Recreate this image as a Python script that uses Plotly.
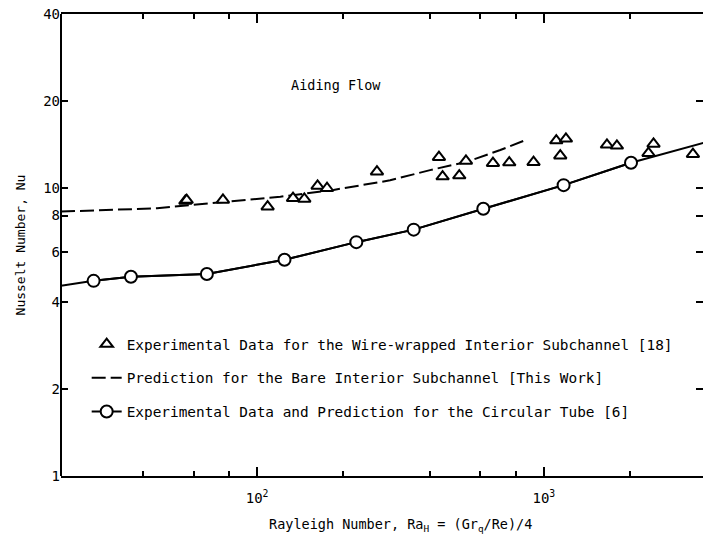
import plotly.graph_objects as go
import math

# Wire-wrapped interior subchannel experimental data [18]
tri_x = [56.2, 56.8, 76.0, 108.8, 133.4, 146.1, 162.5, 175.3, 261.8, 430.7, 443.5, 507, 535,
         664.5, 757.5, 920.6, 1105, 1194, 1141, 1660, 1798, 2413, 2317, 3311]
tri_y = [8.99, 9.05, 9.06, 8.59, 9.19, 9.14, 10.14, 9.95, 11.36, 12.75, 10.92, 11.01, 12.38,
         12.15, 12.21, 12.25, 14.56, 14.76, 12.91, 14.07, 13.96, 14.18, 13.17, 13.06]

# Prediction for the bare interior subchannel (dashed)
bare_x = [20.7, 44.8, 120.5, 184.8, 291, 401, 540, 705, 875]
bare_y = [8.26, 8.48, 9.30, 9.82, 10.6, 11.5, 12.3, 13.5, 14.7]

# Circular tube: experimental data and prediction
circ_x = [26.9, 36.3, 66.8, 124.6, 221.8, 351.6, 615, 1172, 2014]
circ_y = [4.75, 4.91, 5.02, 5.62, 6.47, 7.15, 8.45, 10.2, 12.2]
curve_x = [20.7] + circ_x + [3700]
curve_y = [4.57] + circ_y + [14.4]

x_range = [20.7, 3590]
y_range = [1, 40]
y_ticks = [1, 2, 4, 6, 8, 10, 20, 40]
x_ticks = [100, 1000]
x_ticktext = ["10<sup>2</sup>", "10<sup>3</sup>"]
x_minor = [40, 60, 80, 200, 400, 600, 800, 2000]

names = [
    "Experimental Data for the Wire-wrapped Interior Subchannel [18]",
    "Prediction for the Bare Interior Subchannel [This Work]",
    "Experimental Data and Prediction for the Circular Tube [6]",
]

FONT = "DejaVu Sans Mono"
fig = go.Figure()

fig.add_trace(go.Scatter(x=curve_x, y=curve_y, mode="lines",
                         line=dict(color="black", width=2), showlegend=False,
                         hoverinfo="skip"))
fig.add_trace(go.Scatter(x=bare_x, y=bare_y, mode="lines", name=names[1],
                         line=dict(color="black", width=2, dash="14px,5px"),
                         legendrank=2, legendgroup="b"))
fig.add_trace(go.Scatter(x=circ_x, y=circ_y, mode="lines+markers", name=names[2],
                         line=dict(color="black", width=2),
                         marker=dict(symbol="circle", size=12, color="white",
                                     line=dict(color="black", width=2)),
                         legendrank=3, legendgroup="c"))
fig.add_trace(go.Scatter(x=tri_x, y=tri_y, mode="markers", name=names[0],
                         marker=dict(symbol="triangle-up", size=11, color="white",
                                     line=dict(color="black", width=2)),
                         legendrank=1, legendgroup="a"))

fig.update_layout(
    width=703, height=538,
    margin=dict(l=61, r=0, t=14, b=62),
    paper_bgcolor="white", plot_bgcolor="white",
    font=dict(family=FONT, size=14, color="black"),
    showlegend=True,
    legend=dict(x=0.04, y=0.32, xanchor="left", yanchor="top",
                bgcolor="rgba(0,0,0,0)", traceorder="grouped", tracegroupgap=12,
                font=dict(family=FONT, size=14.4, color="black")),
    xaxis=dict(type="log", range=[math.log10(v) for v in x_range],
               showline=True, linecolor="black", linewidth=2, mirror="ticks",
               ticks="inside", ticklen=9, tickwidth=2, tickcolor="black",
               tickvals=x_ticks, ticktext=x_ticktext, ticklabelstandoff=8,
               showgrid=False, zeroline=False,
               minor=dict(tickvals=x_minor, ticks="inside", ticklen=5,
                          tickwidth=2, tickcolor="black", showgrid=False),
               tickfont=dict(family=FONT, size=14)),
    yaxis=dict(type="log", range=[math.log10(v) for v in y_range],
               showline=False, mirror="ticks",
               ticks="inside", ticklen=7, tickwidth=2, tickcolor="black",
               tickvals=y_ticks, ticktext=[str(v) for v in y_ticks],
               showgrid=False, zeroline=False,
               tickfont=dict(family=FONT, size=14),
               title=dict(text="Nusselt Number, Nu", standoff=14,
                          font=dict(family=FONT, size=13))),
    shapes=[dict(type="line", xref="paper", yref="paper", x0=0, x1=0, y0=0, y1=1,
                 line=dict(color="black", width=2))],
    annotations=[
        dict(text="Aiding Flow", xref="paper", yref="paper",
             x=(336 - 61) / 642, y=(476 - 75) / 462, showarrow=False,
             font=dict(family=FONT, size=13.5)),
        dict(text="Rayleigh Number, Ra<sub>H</sub> = (Gr<sub>q</sub>/Re)/4",
             xref="paper", yref="paper", x=(400 - 61) / 642, y=-0.082,
             yanchor="top", showarrow=False,
             font=dict(family=FONT, size=13.5)),
    ],
)

fig.write_html("out.html")
